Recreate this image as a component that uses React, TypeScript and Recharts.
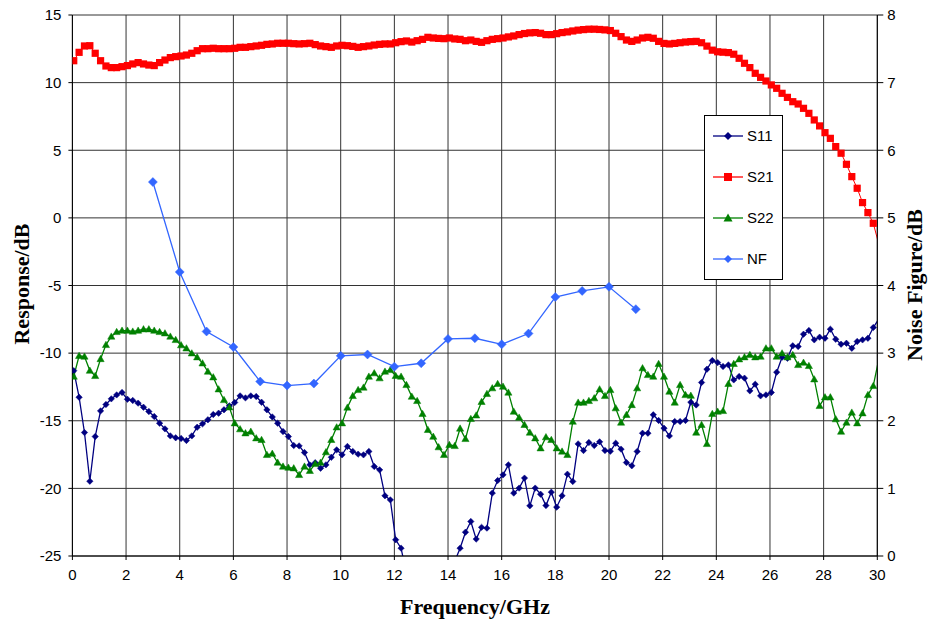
import React from 'react';
import { LineChart, Line, XAxis, YAxis, CartesianGrid, Legend } from 'recharts';

const freqs = [
  0.05, 0.25, 0.45, 0.65, 0.85, 1.05, 1.25, 1.45, 1.65, 1.85,
  2.05, 2.25, 2.45, 2.65, 2.85, 3.05, 3.25, 3.45, 3.65, 3.85,
  4.05, 4.25, 4.45, 4.65, 4.85, 5.05, 5.25, 5.45, 5.65, 5.85,
  6.05, 6.25, 6.45, 6.65, 6.85, 7.05, 7.25, 7.45, 7.65, 7.85,
  8.05, 8.25, 8.45, 8.65, 8.85, 9.05, 9.25, 9.45, 9.65, 9.85,
  10.05, 10.25, 10.45, 10.65, 10.85, 11.05, 11.25, 11.45, 11.65, 11.85,
  12.05, 12.25, 12.45, 12.65, 12.85, 13.05, 13.25, 13.45, 13.65, 13.85,
  14.05, 14.25, 14.45, 14.65, 14.85, 15.05, 15.25, 15.45, 15.65, 15.85,
  16.05, 16.25, 16.45, 16.65, 16.85, 17.05, 17.25, 17.45, 17.65, 17.85,
  18.05, 18.25, 18.45, 18.65, 18.85, 19.05, 19.25, 19.45, 19.65, 19.85,
  20.05, 20.25, 20.45, 20.65, 20.85, 21.05, 21.25, 21.45, 21.65, 21.85,
  22.05, 22.25, 22.45, 22.65, 22.85, 23.05, 23.25, 23.45, 23.65, 23.85,
  24.05, 24.25, 24.45, 24.65, 24.85, 25.05, 25.25, 25.45, 25.65, 25.85,
  26.05, 26.25, 26.45, 26.65, 26.85, 27.05, 27.25, 27.45, 27.65, 27.85,
  28.05, 28.25, 28.45, 28.65, 28.85, 29.05, 29.25, 29.45, 29.65, 29.85,
  30.05,
];

const s11 = [
  -11.3, -13.26, -15.87, -19.47, -16.17, -14.27, -13.8, -13.38, -13.09, -12.91,
  -13.41, -13.5, -13.7, -14.0, -14.32, -14.69, -15.18, -15.6, -16.12, -16.26,
  -16.31, -16.46, -16.12, -15.48, -15.23, -14.93, -14.54, -14.44, -14.19, -13.9,
  -13.65, -13.16, -13.31, -13.16, -13.21, -13.63, -14.19, -14.72, -15.18, -15.8,
  -16.17, -16.83, -16.86, -17.35, -18.26, -18.1, -18.51, -18.26, -17.7, -17.15,
  -17.52, -16.9, -17.27, -17.47, -17.52, -17.27, -18.38, -18.63, -20.55, -20.85,
  -23.8, -24.42, -26.3, -27.5, -28.5, -29, -29, -28.5, -27.8, -27,
  -26.2, -25.4, -24.42, -23.24, -22.45, -23.75, -22.88, -22.94, -20.35, -19.42,
  -19.0, -18.26, -20.35, -19.98, -19.24, -21.29, -19.98, -20.43, -21.27, -20.28,
  -21.39, -20.55, -18.95, -19.49, -16.71, -17.2, -16.61, -16.83, -16.56, -17.2,
  -17.25, -16.66, -17.1, -18.09, -18.33, -17.27, -15.92, -15.92, -14.56, -14.98,
  -15.55, -16.12, -15.06, -15.06, -14.98, -13.63, -13.83, -12.17, -11.19, -10.55,
  -10.7, -10.99, -10.87, -11.98, -11.73, -11.85, -12.79, -12.3, -13.16, -13.09,
  -12.91, -11.41, -10.3, -10.38, -9.46, -9.51, -8.6, -8.33, -9.02, -8.82,
  -8.9, -8.23, -8.97, -9.34, -9.27, -9.64, -9.14, -9.02, -8.9, -8.11,
  -7.5,
];

const s21 = [
  11.62, 12.24, 12.71, 12.73, 12.17, 11.62, 11.23, 11.11, 11.11, 11.18,
  11.26, 11.38, 11.48, 11.38, 11.3, 11.26, 11.48, 11.67, 11.85, 11.92,
  11.97, 12.04, 12.17, 12.36, 12.51, 12.51, 12.54, 12.51, 12.51, 12.51,
  12.54, 12.61, 12.61, 12.66, 12.71, 12.76, 12.83, 12.86, 12.91, 12.91,
  12.91, 12.88, 12.86, 12.88, 12.91, 12.81, 12.71, 12.66, 12.61, 12.71,
  12.76, 12.73, 12.68, 12.61, 12.66, 12.71, 12.78, 12.83, 12.86, 12.86,
  12.95, 13.03, 13.08, 13.0, 13.1, 13.2, 13.35, 13.3, 13.27, 13.25,
  13.3, 13.23, 13.2, 13.1, 13.15, 13.05, 12.98, 13.1, 13.2, 13.25,
  13.3, 13.38, 13.45, 13.55, 13.63, 13.68, 13.7, 13.65, 13.55, 13.55,
  13.62, 13.7, 13.75, 13.82, 13.88, 13.92, 13.95, 13.95, 13.93, 13.9,
  13.85, 13.65, 13.4, 13.15, 13.05, 13.15, 13.3, 13.35, 13.28, 13.05,
  12.9, 12.86, 12.9, 12.95, 13.0, 13.03, 13.05, 12.95, 12.7, 12.4,
  12.28, 12.25, 12.22, 12.1, 11.8, 11.43, 11.11, 10.69, 10.39, 10.12,
  9.83, 9.58, 9.21, 8.91, 8.59, 8.42, 8.1, 7.73, 7.24, 6.8,
  6.3, 5.88, 5.27, 4.78, 3.96, 3.05, 2.19, 1.13, 0.39, -0.4,
  -1.9,
];

const s22 = [
  -11.73, -10.2, -10.25, -11.29, -11.68, -10.43, -9.39, -8.77, -8.43, -8.33,
  -8.33, -8.4, -8.33, -8.23, -8.23, -8.33, -8.43, -8.53, -8.77, -9.02,
  -9.41, -9.64, -10.01, -10.3, -10.75, -11.36, -11.78, -12.67, -13.46, -14.0,
  -15.18, -15.62, -15.92, -15.8, -16.29, -16.41, -17.52, -17.43, -18.09, -18.38,
  -18.46, -18.51, -19.0, -18.38, -18.7, -18.19, -18.09, -17.32, -16.41, -15.48,
  -15.18, -14.02, -13.16, -12.72, -12.54, -11.73, -11.48, -11.85, -11.36, -11.24,
  -11.68, -11.73, -12.35, -13.21, -13.53, -14.49, -15.67, -16.17, -16.95, -17.52,
  -16.78, -16.86, -15.57, -16.34, -14.86, -14.6, -13.6, -13.01, -12.59, -12.27,
  -12.47, -12.91, -14.32, -14.76, -15.3, -15.87, -16.29, -17.03, -16.21, -16.41,
  -17.03, -17.27, -17.52, -15.06, -13.65, -13.65, -13.53, -13.33, -12.67, -13.16,
  -12.72, -14.07, -15.13, -14.56, -13.83, -12.59, -11.11, -11.61, -11.73, -10.79,
  -11.73, -12.84, -13.65, -12.35, -13.09, -13.14, -15.87, -15.3, -16.71, -14.49,
  -14.32, -14.27, -12.27, -10.79, -10.45, -10.3, -10.13, -10.3, -10.25, -9.64,
  -9.64, -10.25, -10.01, -10.3, -10.13, -10.87, -10.7, -10.94, -11.93, -13.9,
  -13.26, -13.26, -14.88, -15.8, -15.13, -14.39, -15.18, -14.44, -13.09, -12.42,
  -10.5,
];

const nfFreqs = [3, 4, 5, 6, 7, 8, 9, 10, 11, 12, 13, 14, 15, 16, 17, 18, 19, 20, 21];
const nfValues = [5.53, 4.2, 3.32, 3.09, 2.58, 2.52, 2.55, 2.96, 2.98, 2.8, 2.85, 3.21, 3.22, 3.13, 3.29, 3.83, 3.92, 3.98, 3.65];

const xTicks = [0, 2, 4, 6, 8, 10, 12, 14, 16, 18, 20, 22, 24, 26, 28, 30];
const leftTicks = [-25, -20, -15, -10, -5, 0, 5, 10, 15];
const rightTicks = [0, 1, 2, 3, 4, 5, 6, 7, 8];

const C_S11 = '#000080';
const C_S21 = '#FF0000';
const C_S22 = '#008000';
const C_NF = '#3366FF';

const sData = freqs.map((f, i) => ({ f, s11: s11[i], s21: s21[i], s22: s22[i] }));
const nfData = nfFreqs.map((f, i) => ({ f, nf: nfValues[i] }));

const SANS = '"Liberation Sans", Arial, sans-serif';
const SERIF = '"Liberation Serif", "Times New Roman", serif';

const visible = (p: any) =>
  p && p.cx != null && p.cy != null && p.payload && p.payload.f <= 30.001 && p.value >= -25.001;

const diamondPath = (cx: number, cy: number, r: number) =>
  `M${cx},${cy - r}L${cx + r},${cy}L${cx},${cy + r}L${cx - r},${cy}Z`;
const trianglePath = (cx: number, cy: number, r: number) =>
  `M${cx},${cy - r}L${cx + r},${cy + r * 0.75}L${cx - r},${cy + r * 0.75}Z`;

const makeDiamondDot = (color: string, r: number) => (p: any) => {
  if (!visible(p)) return <g key={`k-${p.index}`} />;
  return <path key={`k-${p.index}`} d={diamondPath(p.cx, p.cy, r)} fill={color} stroke={color} strokeWidth={0.5} />;
};
const makeSquareDot = (color: string, s: number) => (p: any) => {
  if (!visible(p)) return <g key={`k-${p.index}`} />;
  return <rect key={`k-${p.index}`} x={p.cx - s} y={p.cy - s} width={2 * s} height={2 * s} fill={color} />;
};
const makeTriangleDot = (color: string, r: number) => (p: any) => {
  if (!visible(p)) return <g key={`k-${p.index}`} />;
  return <path key={`k-${p.index}`} d={trianglePath(p.cx, p.cy, r)} fill={color} stroke={color} strokeWidth={0.5} />;
};

const legendItems = [
  { name: 'S11', color: C_S11, shape: 'diamond' },
  { name: 'S21', color: C_S21, shape: 'square' },
  { name: 'S22', color: C_S22, shape: 'triangle' },
  { name: 'NF', color: C_NF, shape: 'diamond' },
];

const LegendBox = () => (
  <svg width={79} height={165} style={{ display: 'block' }}>
    <rect x={0.5} y={0.5} width={78} height={164} fill="#fff" stroke="#000" strokeWidth={1} />
    {legendItems.map((it, i) => {
      const cy = 21 + i * 41;
      const cx = 24;
      let marker: React.ReactNode = null;
      if (it.shape === 'diamond') marker = <path d={diamondPath(cx, cy, 4)} fill={it.color} />;
      if (it.shape === 'square') marker = <rect x={cx - 4} y={cy - 4} width={8} height={8} fill={it.color} />;
      if (it.shape === 'triangle') marker = <path d={trianglePath(cx, cy, 4.5)} fill={it.color} />;
      return (
        <g key={it.name}>
          <line x1={9} y1={cy} x2={39} y2={cy} stroke={it.color} strokeWidth={1.3} />
          {marker}
          <text x={43} y={cy} dy="0.36em" fontSize={15} fontFamily={SANS} fill="#000">
            {it.name}
          </text>
        </g>
      );
    })}
  </svg>
);

const tickStyle = { fontSize: 15, fill: '#000', fontFamily: SANS };

export default function App() {
  return (
    <div style={{ position: 'absolute', left: 0, top: 0, width: 929, height: 621, background: '#fff' }}>
      <LineChart width={929} height={621} margin={{ top: 15, right: 11.7, bottom: 25, left: 12.4 }}>
        <CartesianGrid yAxisId="left" stroke="#333" strokeWidth={1} />
        <XAxis
          dataKey="f"
          type="number"
          domain={[0, 30]}
          ticks={xTicks}
          interval={0}
          allowDataOverflow
          height={40}
          tick={tickStyle}
          tickSize={4}
          tickMargin={9}
          axisLine={{ stroke: '#000' }}
          tickLine={{ stroke: '#000' }}
        />
        <YAxis
          yAxisId="left"
          domain={[-25, 15]}
          ticks={leftTicks}
          interval={0}
          allowDataOverflow
          width={60}
          tick={tickStyle}
          tickSize={4}
          tickMargin={7}
          axisLine={{ stroke: '#000' }}
          tickLine={{ stroke: '#000' }}
        />
        <YAxis
          yAxisId="right"
          orientation="right"
          domain={[0, 8]}
          ticks={rightTicks}
          interval={0}
          allowDataOverflow
          width={40}
          tick={tickStyle}
          tickSize={6}
          tickMargin={4}
          axisLine={{ stroke: '#000' }}
          tickLine={{ stroke: '#000' }}
        />
        <Legend
          layout="vertical"
          align="center"
          verticalAlign="middle"
          content={() => <LegendBox />}
          wrapperStyle={{ position: 'absolute', left: 704, top: 115, width: 79, height: 165 }}
        />
        <Line
          yAxisId="left"
          data={sData}
          dataKey="s11"
          name="S11"
          stroke={C_S11}
          strokeWidth={1.3}
          dot={makeDiamondDot(C_S11, 3.2)}
          activeDot={false}
          isAnimationActive={false}
        />
        <Line
          yAxisId="left"
          data={sData}
          dataKey="s21"
          name="S21"
          stroke={C_S21}
          strokeWidth={1}
          dot={makeSquareDot(C_S21, 3.6)}
          activeDot={false}
          isAnimationActive={false}
        />
        <Line
          yAxisId="left"
          data={sData}
          dataKey="s22"
          name="S22"
          stroke={C_S22}
          strokeWidth={1.3}
          dot={makeTriangleDot(C_S22, 3.6)}
          activeDot={false}
          isAnimationActive={false}
        />
        <Line
          yAxisId="right"
          data={nfData}
          dataKey="nf"
          name="NF"
          stroke={C_NF}
          strokeWidth={1.3}
          dot={makeDiamondDot(C_NF, 4.5)}
          activeDot={false}
          isAnimationActive={false}
        />
      </LineChart>
      <div
        style={{
          position: 'absolute', left: 475, top: 607, transform: 'translate(-50%, -50%)',
          fontFamily: SERIF, fontWeight: 'bold', fontSize: 22, whiteSpace: 'nowrap', color: '#000',
        }}
      >
        Frequency/GHz
      </div>
      <div
        style={{
          position: 'absolute', left: 22, top: 284, transform: 'translate(-50%, -50%) rotate(-90deg)',
          fontFamily: SERIF, fontWeight: 'bold', fontSize: 22, whiteSpace: 'nowrap', color: '#000',
        }}
      >
        Response/dB
      </div>
      <div
        style={{
          position: 'absolute', left: 915, top: 285, transform: 'translate(-50%, -50%) rotate(-90deg)',
          fontFamily: SERIF, fontWeight: 'bold', fontSize: 22, whiteSpace: 'nowrap', color: '#000',
        }}
      >
        Noise Figure/dB
      </div>
    </div>
  );
}
